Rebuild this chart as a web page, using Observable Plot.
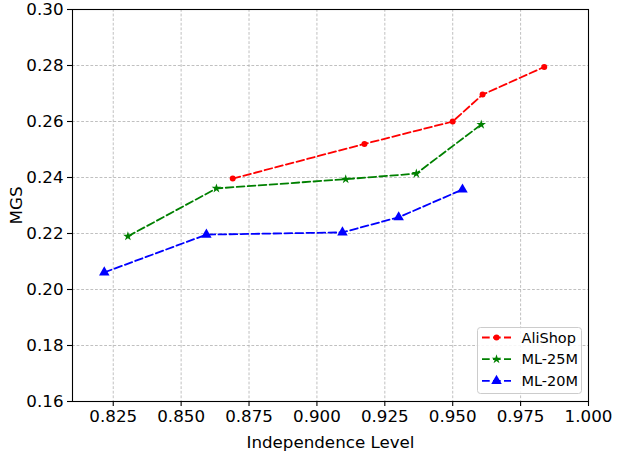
<!DOCTYPE html>
<html>
<head>
<meta charset="utf-8">
<script src="https://cdn.jsdelivr.net/npm/d3@7"></script>
<script src="https://cdn.jsdelivr.net/npm/@observablehq/plot@0.6"></script>
<style>
  html, body { margin: 0; padding: 0; background: #fff; }
  #chart svg { display: block; }
</style>
</head>
<body>
<div id="chart"></div>
<script>
// ---- data ----
const seriesNames = ["AliShop", "ML-25M", "ML-20M"];
const seriesColors = ["#ff0000", "#008000", "#0000ff"];
const seriesSymbols = ["circle", "star", "triangle"];

const aliX  = [0.8690, 0.9175, 0.9500, 0.9610, 0.9837];
const aliY  = [0.2396, 0.2520, 0.2600, 0.2696, 0.2795];
const ml25X = [0.8304, 0.8630, 0.9106, 0.9366, 0.9605];
const ml25Y = [0.2190, 0.2361, 0.2394, 0.2414, 0.2589];
const ml20X = [0.8217, 0.8593, 0.9094, 0.9301, 0.9536];
const ml20Y = [0.2061, 0.2196, 0.2204, 0.2258, 0.2357];

const xTicks = [0.825, 0.85, 0.875, 0.9, 0.925, 0.95, 0.975, 1.0];
const yTicks = [0.16, 0.18, 0.20, 0.22, 0.24, 0.26, 0.28, 0.30];

const xs = [aliX, ml25X, ml20X];
const ys = [aliY, ml25Y, ml20Y];
const rows = [];
seriesNames.forEach((s, i) => xs[i].forEach((x, j) => rows.push({series: s, x, y: ys[i][j]})));

const font = "DejaVu Sans, sans-serif";
const dash = "7.7,3.3";

const sizes = {AliShop: 3.0, "ML-25M": 3.0, "ML-20M": 3.9};

const marks = [
  Plot.gridX(xTicks, {stroke: "#b0b0b0", strokeOpacity: 1, strokeWidth: 0.8, strokeDasharray: "2.8,1.8"}),
  Plot.gridY(yTicks, {stroke: "#b0b0b0", strokeOpacity: 1, strokeWidth: 0.8, strokeDasharray: "2.8,1.8"}),
  Plot.frame({stroke: "#000", strokeWidth: 1.1}),
  Plot.axisX(xTicks, {tickFormat: d3.format(".3f"), tickSize: 5, tickPadding: 4, fontSize: 16.7,
    label: "Independence Level", labelAnchor: "center", labelArrow: "none", labelOffset: 46, stroke: "#000", strokeWidth: 1.1}),
  Plot.axisY(yTicks, {tickFormat: d3.format(".2f"), tickSize: 5, tickPadding: 4, fontSize: 16.7,
    label: "MGS", labelAnchor: "center", labelArrow: "none", labelOffset: 62, stroke: "#000", strokeWidth: 1.1})
];
seriesNames.forEach((s, i) => {
  const d = rows.filter(r => r.series === s);
  marks.push(Plot.line(d, {x: "x", y: "y", stroke: seriesColors[i], strokeWidth: 1.8, strokeDasharray: dash}));
  marks.push(Plot.dot(d, {x: "x", y: "y", symbol: () => seriesSymbols[i], fill: seriesColors[i], stroke: "none", r: sizes[s]}));
});

const chart = Plot.plot({
  width: 621,
  height: 457,
  marginLeft: 72,
  marginRight: 33,
  marginTop: 9,
  marginBottom: 56,
  style: {fontFamily: font, fontSize: "16.7px", color: "#000", background: "#fff"},
  x: {domain: [0.81, 1.0]},
  y: {domain: [0.16, 0.30]},
  symbol: {domain: seriesSymbols, range: seriesSymbols},
  marks
});
document.getElementById("chart").appendChild(chart);

// ---- legend (lower right, matplotlib style) ----
const svg = d3.select(chart);
const lg = svg.append("g").attr("font-family", font).attr("font-size", "14.5px").attr("text-anchor", "start");
lg.append("rect").attr("x", 477.5).attr("y", 327.5).attr("width", 104).attr("height", 66)
  .attr("rx", 3).attr("fill", "#fff").attr("fill-opacity", 0.85).attr("stroke", "#cccccc").attr("stroke-width", 1);
const symMap = {circle: d3.symbolCircle, star: d3.symbolStar, triangle: d3.symbolTriangle};
seriesNames.forEach((s, i) => {
  const cy = 337.5 + i * 21.7;
  lg.append("line").attr("x1", 482).attr("x2", 511).attr("y1", cy).attr("y2", cy)
    .attr("stroke", seriesColors[i]).attr("stroke-width", 1.8).attr("stroke-dasharray", dash);
  lg.append("path").attr("transform", `translate(496.5,${cy})`)
    .attr("d", d3.symbol(symMap[seriesSymbols[i]], Math.PI * sizes[s] * sizes[s])())
    .attr("fill", seriesColors[i]);
  lg.append("text").attr("x", 521.5).attr("y", cy).attr("dy", "0.35em").attr("fill", "#000").attr("text-anchor", "start").text(s);
});
</script>
</body>
</html>
